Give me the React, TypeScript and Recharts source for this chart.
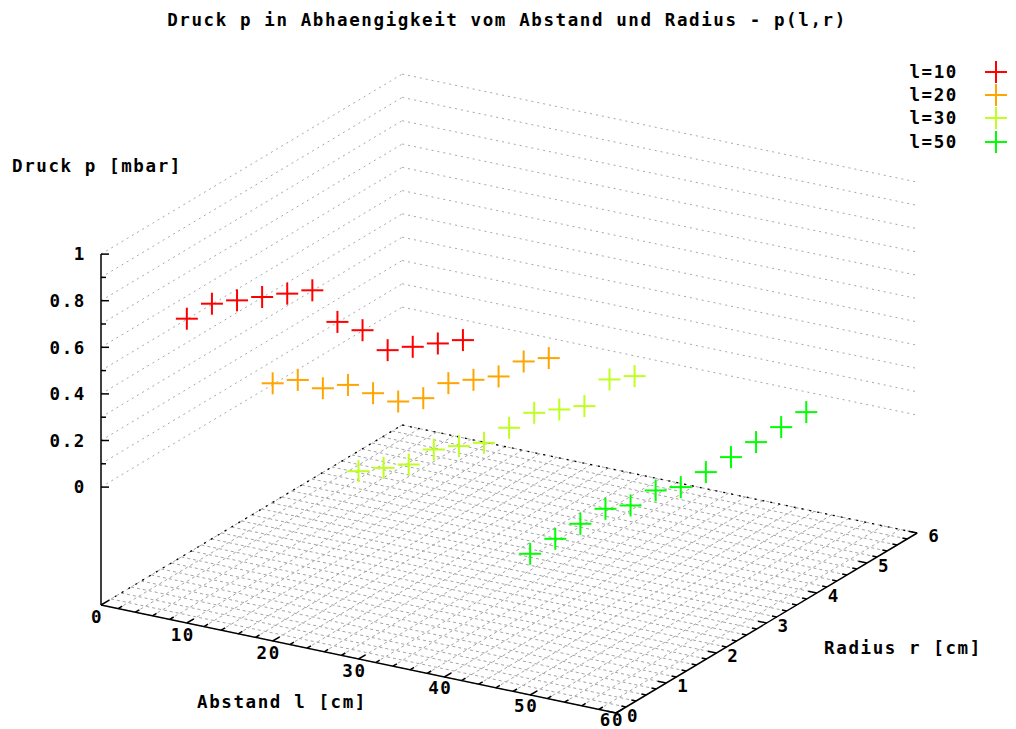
import React from 'react';
import { ScatterChart, Scatter, XAxis, YAxis, ReferenceLine, ReferenceDot, Legend } from 'recharts';

// measured pressure p [mbar] per radius r [cm], one list per distance l [cm]
const radius = [0, 0.5, 1, 1.5, 2, 2.5, 3, 3.5, 4, 4.5, 5, 5.5];
const pressureL10 = [0.8, 0.8, 0.75, 0.7, 0.65, 0.6, 0.4, 0.3, 0.15, 0.1, 0.05, 0];
const pressureL20 = [0.6, 0.55, 0.45, 0.4, 0.3, 0.2, 0.15, 0.15, 0.1, 0.05, 0.05, 0];
const pressureL30 = [0.3, 0.25, 0.2, 0.2, 0.15, 0.1, 0.1, 0.1, 0.05, 0, 0.05, 0];
const pressureL50 = [0.1, 0.1, 0.1, 0.1, 0.05, 0.05, 0, 0, 0, 0, 0, 0];

const distances = [10, 20, 30, 50];
const seriesNames = ['l=10', 'l=20', 'l=30', 'l=50'];
const seriesValues = [pressureL10, pressureL20, pressureL30, pressureL50];
const seriesColors = ['#ff0000', '#ffa500', '#bfff1f', '#00ff00'];

const lTicks = [0, 10, 20, 30, 40, 50, 60];
const rTicks = [0, 1, 2, 3, 4, 5, 6];
const zTicks = [0, 0.2, 0.4, 0.6, 0.8, 1];
const zTickLabels = ['0', '0.2', '0.4', '0.6', '0.8', '1'];

const W = 1016;
const H = 729;

// gnuplot-like view: base plane sits half a z-range below z=0
const view = { x0: 101, y0: 605, lx: 515 / 60, ly: 108 / 60, rx: 50.2, ry: -30, zy: 233, zBase: -0.506 };
const L_MAX = 60;
const R_MAX = 6;
const Z_MAX = 1;

const project = (l: number, r: number, z: number) => ({
  x: view.x0 + l * view.lx + r * view.rx,
  y: view.y0 + l * view.ly + r * view.ry - (z - view.zBase) * view.zy,
});

const seriesData = seriesValues.map((vals, s) =>
  vals.map((p, i) => ({ ...project(distances[s], radius[i], p), l: distances[s], r: radius[i], p }))
);

type Seg = { a: { x: number; y: number }; b: { x: number; y: number } };

// grid on the base plane (major + minor tics) and on the back walls
const baseGrid: Seg[] = [];
for (let i = 0; i <= 30; i++) {
  const l = i * 2;
  baseGrid.push({ a: project(l, 0, view.zBase), b: project(l, R_MAX, view.zBase) });
}
for (let i = 0; i <= 30; i++) {
  const r = i * 0.2;
  baseGrid.push({ a: project(0, r, view.zBase), b: project(L_MAX, r, view.zBase) });
}
const wallGrid: Seg[] = [];
for (let i = 0; i <= 10; i++) {
  const z = i / 10;
  wallGrid.push({ a: project(0, 0, z), b: project(0, R_MAX, z) });
  wallGrid.push({ a: project(0, R_MAX, z), b: project(L_MAX, R_MAX, z) });
}

const tickSegs: Seg[] = [];
for (let i = 0; i <= 30; i++) {
  const l = i * 2;
  const len = l % 10 === 0 ? 0.14 : 0.08;
  tickSegs.push({ a: project(l, 0, view.zBase), b: project(l, len, view.zBase) });
}
for (let i = 0; i <= 30; i++) {
  const r = i * 0.2;
  const len = i % 5 === 0 ? 1.0 : 0.55;
  tickSegs.push({ a: project(L_MAX, r, view.zBase), b: project(L_MAX - len, r, view.zBase) });
}
for (let i = 0; i <= 10; i++) {
  const p = project(0, 0, i / 10);
  const len = i % 2 === 0 ? 8 : 5;
  tickSegs.push({ a: p, b: { x: p.x + len, y: p.y } });
}

const font = '"DejaVu Sans Mono", "Liberation Mono", monospace';
const textProps = { fill: '#000', fontSize: 17.5, fontFamily: font, fontWeight: 'bold', style: { letterSpacing: 1.6 } };

const Plus = (props: any) => {
  const { cx, cy, color } = props;
  if (cx == null || cy == null) return null;
  return (
    <g>
      <line x1={cx - 11} y1={cy} x2={cx + 11} y2={cy} stroke={color} strokeWidth={2} />
      <line x1={cx} y1={cy - 11} x2={cx} y2={cy + 11} stroke={color} strokeWidth={2} />
    </g>
  );
};

const LegendBox = () => (
  <div style={{ width: 136, fontFamily: font, fontWeight: 'bold', fontSize: 17.5, letterSpacing: 1.6, color: '#000' }}>
    {seriesNames.map((name, i) => (
      <div key={name} style={{ display: 'flex', alignItems: 'center', height: 23.4 }}>
        <span style={{ width: 80, textAlign: 'right' }}>{name}</span>
        <svg width={24} height={24} style={{ marginLeft: 26 }}>
          <line x1={1} y1={12} x2={23} y2={12} stroke={seriesColors[i]} strokeWidth={2} />
          <line x1={12} y1={1} x2={12} y2={23} stroke={seriesColors[i]} strokeWidth={2} />
        </svg>
      </div>
    ))}
  </div>
);

const dot = (key: string, x: number, y: number, value: string, position: any, offset = 0) => (
  <ReferenceDot
    key={key}
    x={x}
    y={y}
    r={0}
    fill="none"
    stroke="none"
    ifOverflow="visible"
    label={{ value, position, offset, ...textProps }}
  />
);

export default function App() {
  const origin = project(0, 0, view.zBase);
  const zTop = project(0, 0, Z_MAX);
  const lEnd = project(L_MAX, 0, view.zBase);
  const rEnd = project(L_MAX, R_MAX, view.zBase);
  const back = project(0, R_MAX, view.zBase);

  return (
    <div style={{ position: 'absolute', left: 0, top: 0, background: '#fff' }}>
      <ScatterChart width={W} height={H} margin={{ top: 0, right: 0, bottom: 0, left: 0 }}>
        <XAxis type="number" dataKey="x" domain={[0, W]} hide allowDataOverflow />
        <YAxis type="number" dataKey="y" domain={[0, H]} reversed hide allowDataOverflow />

        {baseGrid.map((s, i) => (
          <ReferenceLine key={'bg' + i} segment={[s.a, s.b]} stroke="#a4a4a4" strokeDasharray="3 3" ifOverflow="visible" />
        ))}
        {wallGrid.map((s, i) => (
          <ReferenceLine key={'wg' + i} segment={[s.a, s.b]} stroke="#a8a8a8" strokeDasharray="2 4" ifOverflow="visible" />
        ))}

        {/* hidden back edges of the base */}
        <ReferenceLine segment={[origin, back]} stroke="#000" strokeWidth={1.3} strokeDasharray="2 6" ifOverflow="visible" />
        <ReferenceLine segment={[back, rEnd]} stroke="#000" strokeWidth={1.3} strokeDasharray="2 6" ifOverflow="visible" />

        {/* axes */}
        <ReferenceLine segment={[origin, zTop]} stroke="#000" strokeWidth={1.5} ifOverflow="visible" />
        <ReferenceLine segment={[origin, lEnd]} stroke="#000" strokeWidth={1.5} ifOverflow="visible" />
        <ReferenceLine segment={[lEnd, rEnd]} stroke="#000" strokeWidth={1.5} ifOverflow="visible" />
        {tickSegs.map((s, i) => (
          <ReferenceLine key={'tk' + i} segment={[s.a, s.b]} stroke="#000" strokeWidth={1.5} ifOverflow="visible" />
        ))}

        {seriesData.map((data, s) => (
          <Scatter
            key={seriesNames[s]}
            name={seriesNames[s]}
            data={data}
            isAnimationActive={false}
            shape={(props: any) => <Plus {...props} color={seriesColors[s]} />}
          />
        ))}

        {zTicks.map((z, i) => {
          const p = project(0, 0, z);
          return dot('zl' + i, p.x, p.y, zTickLabels[i], 'left', 15);
        })}
        {lTicks.map((l, i) => {
          const p = project(l, 0, view.zBase);
          const y = Math.min(p.y + 12 - l * 0.02, H - 9);
          return dot('ll' + i, p.x - 4, y, String(l), 'center');
        })}
        {rTicks.map((r, i) => {
          const p = project(L_MAX, r, view.zBase);
          return dot('rl' + i, p.x + 17, p.y + 3, String(r), 'center');
        })}

        {dot('title', 507, 20, 'Druck p in Abhaengigkeit vom Abstand und Radius - p(l,r)', 'center')}
        {dot('zlabel', 12, 166, 'Druck p [mbar]', 'right', 0)}
        {dot('llabel', 282, 702, 'Abstand l [cm]', 'center')}
        {dot('rlabel', 903, 648, 'Radius r [cm]', 'center')}

        <Legend
          layout="horizontal"
          verticalAlign="middle"
          align="center"
          content={() => <LegendBox />}
          wrapperStyle={{ position: 'absolute', left: 878, top: 60, width: 136 }}
        />
      </ScatterChart>
    </div>
  );
}
